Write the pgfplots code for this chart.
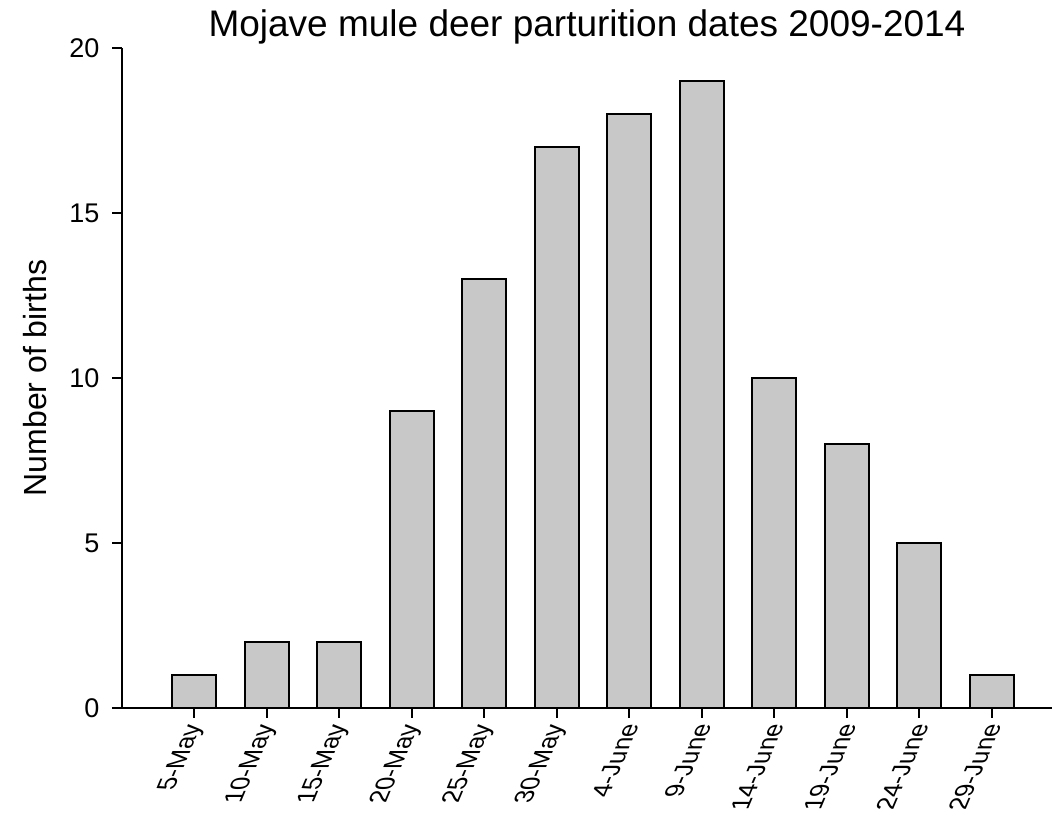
\documentclass[border=0pt]{standalone}
\usepackage{fontspec}
\setmainfont{Liberation Sans}
\usepackage{pgfplots}
\pgfplotsset{compat=1.18}
\definecolor{barfill}{RGB}{200,200,200}
\newcommand{\yt}[1]{{\fontsize{13.5}{16}\selectfont #1}}
\begin{document}
\begin{tikzpicture}
% page size of the reference (0.5pt per pixel), axis box starts at (0,0)
\path[use as bounding box] (-61pt,-59pt) rectangle (465.5pt,354pt);
\begin{axis}[
  at={(0,0)}, anchor=south west,
  scale only axis, width=465pt, height=330pt,
  xmin=-1, xmax=11.83, ymin=0, ymax=20,
  axis x line=bottom, axis y line=left,
  axis line style={line width=1pt, -},
  tick align=outside,
  major tick length=4.8pt,
  major tick style={line width=1pt, black},
  ytick={0,5,10,15,20},
  yticklabels={\yt{0},\yt{5},\yt{10},\yt{15},\yt{20}},
  xtick={0,...,11},
  xticklabels={5-May,10-May,15-May,20-May,25-May,30-May,4-June,9-June,14-June,19-June,24-June,29-June},
  % slanted labels: baseline at about 67 degrees, letters standing upright
  x tick label style={cm={0.391,0.921,-1,0,(0,0)}, anchor=east, yshift=-2pt, font=\fontsize{13}{15}\selectfont},
  y tick label style={xshift=-3pt},
  title={Mojave mule deer parturition dates 2009-2014},
  title style={font=\fontsize{18.5}{22}\selectfont, yshift=-7.5pt},
  ylabel={Number of births},
  ylabel style={at={(axis description cs:-0.0935,0.5)}, anchor=center, font=\fontsize{16}{19}\selectfont},
  clip=false,
]
\addplot[ybar, bar width=22pt, fill=barfill, draw=black, line width=1pt] coordinates {
  (0,1) (1,2) (2,2) (3,9) (4,13) (5,17) (6,18) (7,19) (8,10) (9,8) (10,5) (11,1)
};
\draw[line width=1pt] (axis cs:-1.14,0) -- (axis cs:-1,0);
\end{axis}
\end{tikzpicture}
\end{document}
